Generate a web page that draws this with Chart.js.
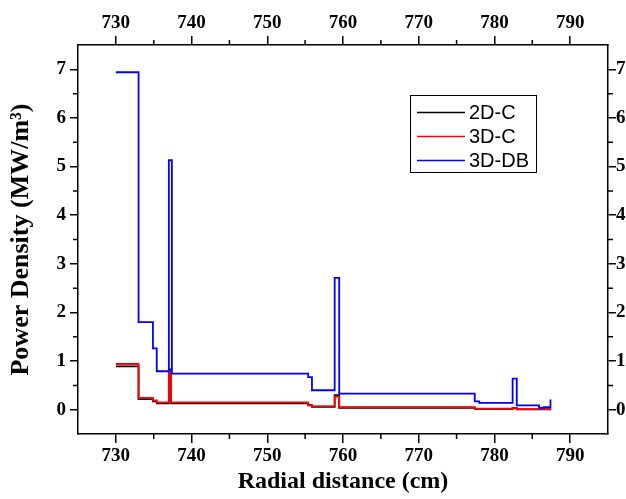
<!DOCTYPE html>
<html lang="en">
<head>
    <meta charset="UTF-8">
    <title>Power Density vs Radial distance</title>
    <script src="https://cdn.jsdelivr.net/npm/chart.js"></script>
    <style>
        body { margin: 0; background: #fff; }
    </style>
</head>
<body>
    <canvas id="chart" width="626" height="499"></canvas>

    <script>
        // step positions (cm) and the power density held from each position (MW/m3)
        const x2DC = [730, 733.0, 734.9, 735.4, 737.0, 737.3, 755.4, 755.9, 758.9, 759.5, 777.4, 782.4, 782.95, 787.5];
        const y2DC = [0.89, 0.22, 0.17, 0.13, 0.83, 0.13, 0.09, 0.06, 0.30, 0.04, 0.015, 0.03, 0.005, 0.005];

        const x3DC = [730, 733.0, 734.9, 735.4, 737.0, 737.3, 755.4, 755.9, 758.9, 759.5, 777.4, 782.4, 782.95, 787.5];
        const y3DC = [0.94, 0.24, 0.19, 0.15, 0.78, 0.15, 0.10, 0.07, 0.27, 0.05, 0.02, 0.035, 0.01, 0.01];

        const x3DDB = [730, 733.0, 734.9, 735.4, 737.0, 737.4, 755.4, 755.9, 758.9, 759.5, 777.4, 778.0, 782.4, 782.95, 785.9, 786.5, 787.4];
        const y3DDB = [6.94, 1.80, 1.26, 0.79, 5.13, 0.74, 0.67, 0.40, 2.71, 0.33, 0.17, 0.14, 0.64, 0.09, 0.035, 0.05, 0.21];

        const xTicks = [730, 740, 750, 760, 770, 780, 790];
        const xMinorTicks = [735, 745, 755, 765, 775, 785];
        const yTicks = [0, 1, 2, 3, 4, 5, 6, 7];
        const yMinorTicks = [0.5, 1.5, 2.5, 3.5, 4.5, 5.5, 6.5];

        const pts = (xs, ys) => xs.map((x, i) => ({x: x, y: ys[i]}));

        const tickFont = {family: 'Liberation Serif', size: 19, weight: 'bold'};

        function axis(position, min, max, ticks, size, title, titleSize) {
            const horiz = position === 'top' || position === 'bottom';
            return {
                type: 'linear',
                position: position,
                min: min,
                max: max,
                afterBuildTicks: s => { s.ticks = ticks.map(v => ({value: v})); },
                afterFit: s => { if (horiz) s.height = size; else s.width = size; },
                ticks: {font: tickFont, color: '#000', padding: position === 'left' ? 4 : (position === 'right' ? 0 : 2),
                        maxRotation: 0, autoSkip: false},
                grid: {drawOnChartArea: false, color: '#000', lineWidth: 1.5, tickLength: horiz ? 9 : 8},
                border: {color: '#000', width: 1.5},
                title: title ? {display: true, text: title, color: '#000',
                                font: {family: 'Liberation Serif', size: titleSize, weight: 'bold'},
                                padding: horiz ? {top: 0, bottom: 3} : {top: 6, bottom: 0}} : {display: false}
            };
        }

        // short minor ticks on all four sides
        const minorTicks = {
            id: 'minorTicks',
            afterDraw(chart) {
                const ctx = chart.ctx;
                const a = chart.chartArea;
                ctx.save();
                ctx.strokeStyle = '#000';
                ctx.lineWidth = 1.5;
                ctx.beginPath();
                xMinorTicks.forEach(v => {
                    const px = chart.scales.x.getPixelForValue(v);
                    ctx.moveTo(px, a.bottom); ctx.lineTo(px, a.bottom + 5);
                    ctx.moveTo(px, a.top); ctx.lineTo(px, a.top - 5);
                });
                yMinorTicks.forEach(v => {
                    const py = chart.scales.y.getPixelForValue(v);
                    ctx.moveTo(a.left, py); ctx.lineTo(a.left - 5, py);
                    ctx.moveTo(a.right, py); ctx.lineTo(a.right + 5, py);
                });
                ctx.stroke();
                ctx.restore();
            }
        };

        // boxed legend inside the plot
        const boxLegend = {
            id: 'boxLegend',
            afterDraw(chart) {
                const ctx = chart.ctx;
                const bx = 410, by = 95, bw = 126, bh = 77;
                ctx.save();
                ctx.fillStyle = '#fff';
                ctx.fillRect(bx, by, bw, bh);
                ctx.strokeStyle = '#000';
                ctx.lineWidth = 1;
                ctx.strokeRect(bx + 0.5, by + 0.5, bw, bh);
                ctx.font = '20px "Liberation Sans"';
                ctx.textBaseline = 'middle';
                chart.data.datasets.forEach((ds, i) => {
                    const y = by + 17.5 + i * 24;
                    ctx.strokeStyle = ds.borderColor;
                    ctx.lineWidth = 1.5;
                    ctx.beginPath();
                    ctx.moveTo(bx + 7, y); ctx.lineTo(bx + 55, y);
                    ctx.stroke();
                    ctx.fillStyle = '#000';
                    ctx.fillText(ds.label, bx + 59, y + 1);
                });
                ctx.restore();
            }
        };

        new Chart(document.getElementById('chart'), {
            type: 'line',
            data: {
                datasets: [{
                    label: '2D-C',
                    data: pts(x2DC, y2DC),
                    borderColor: '#000',
                    order: 3
                }, {
                    label: '3D-C',
                    data: pts(x3DC, y3DC),
                    borderColor: '#ff0000',
                    order: 2
                }, {
                    label: '3D-DB',
                    data: pts(x3DDB, y3DDB),
                    borderColor: '#0000ff',
                    order: 1
                }]
            },
            options: {
                responsive: false,
                animation: false,
                layout: {padding: 0},
                datasets: {
                    line: {stepped: true, borderWidth: 1.8, pointRadius: 0, fill: false, tension: 0}
                },
                plugins: {legend: {display: false}, tooltip: {enabled: false}},
                scales: {
                    x: axis('bottom', 725, 795, xTicks, 65, 'Radial distance (cm)', 24),
                    x2: axis('top', 725, 795, xTicks, 45),
                    y: axis('left', -0.5, 7.5, yTicks, 78, 'Power Density (MW/m\u00B3)', 26),
                    y2: axis('right', -0.5, 7.5, yTicks, 18)
                }
            },
            plugins: [minorTicks, boxLegend]
        });
    </script>
</body>
</html>
